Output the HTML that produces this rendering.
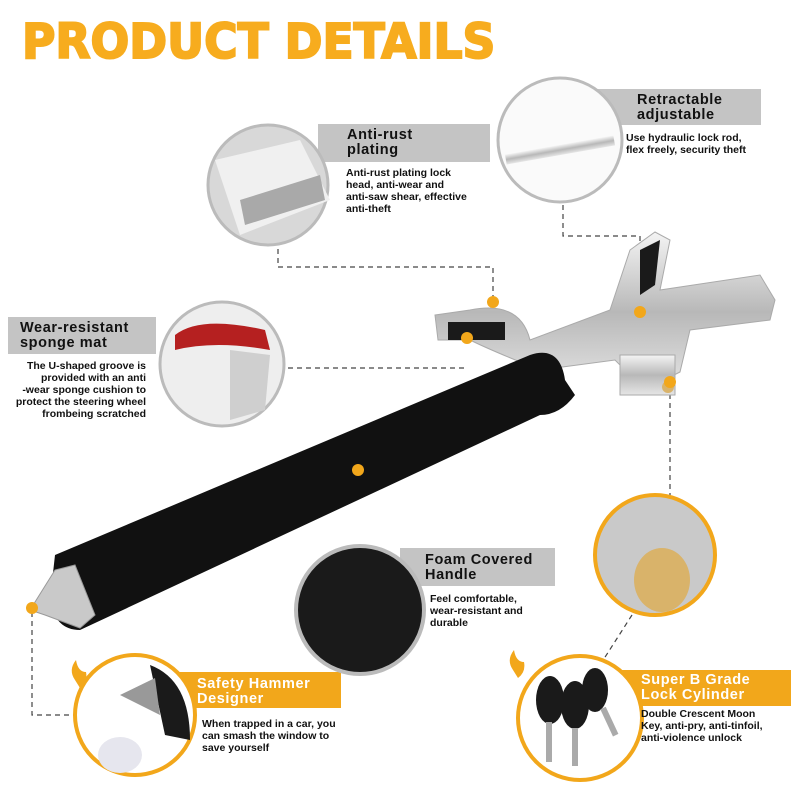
<!DOCTYPE html>
<html><head><meta charset="utf-8"><style>
body{margin:0;width:800px;height:800px;background:#fff;overflow:hidden;position:relative;font-family:"Liberation Sans",sans-serif}
.t{position:absolute;font-weight:bold;font-size:14.5px;line-height:15px;color:#111;letter-spacing:.6px}
.d{position:absolute;font-size:10.5px;line-height:12px;color:#111;font-weight:bold}
</style></head><body>
<svg width="800" height="800" style="position:absolute;left:0;top:0">
<defs>
<linearGradient id="s" x1="0" y1="0" x2="0" y2="1"><stop offset="0" stop-color="#f4f4f4"/><stop offset=".5" stop-color="#b8b8b8"/><stop offset="1" stop-color="#e6e6e6"/></linearGradient>
</defs>
<rect x="318" y="124" width="172" height="38" fill="#c4c4c4"/>
<rect x="575" y="89" width="186" height="36" fill="#c4c4c4"/>
<rect x="8" y="317" width="148" height="37" fill="#c4c4c4"/>
<rect x="400" y="548" width="155" height="38" fill="#c4c4c4"/>
<rect x="175" y="672" width="166" height="36" fill="#f2a71b"/>
<rect x="615" y="670" width="176" height="36" fill="#f2a71b"/>
<g stroke="#444" stroke-width="1.2" stroke-dasharray="5,4" fill="none">
<polyline points="278,240 278,267 493,267 493,300"/>
<polyline points="563,205 563,236 640,236 640,250"/>
<polyline points="270,368 465,368"/>
<polyline points="670,385 670,500"/>
<polyline points="32,612 32,715 75,715"/>
<polyline points="632,615 600,665"/>
</g>
<circle cx="268" cy="185" r="60" fill="#d8d8d8" stroke="#bbb" stroke-width="3"/>
<path d="M215,160 L300,140 L330,200 L240,235Z" fill="#f0f0f0"/>
<path d="M240,200 L320,175 L325,200 L245,225Z" fill="#a9a9a9"/>
<circle cx="560" cy="140" r="62" fill="#fafafa" stroke="#bbb" stroke-width="3"/>
<rect x="505" y="145" width="110" height="10" fill="url(#s)" transform="rotate(-10 560 150)"/>
<circle cx="222" cy="364" r="62" fill="#eee" stroke="#bbb" stroke-width="3"/>
<path d="M175,335 Q200,315 265,330 L270,350 Q215,340 175,350Z" fill="#b52020"/>
<path d="M230,350 L270,355 L265,410 L230,420Z" fill="#cfcfcf"/>
<circle cx="360" cy="610" r="64" fill="#1a1a1a" stroke="#bbb" stroke-width="4"/>
<circle cx="655" cy="555" r="60" fill="#c9c9c9" stroke="#f2a71b" stroke-width="4"/>
<ellipse cx="662" cy="580" rx="28" ry="32" fill="#d9b36a"/>
<circle cx="580" cy="718" r="62" fill="#fff" stroke="#f2a71b" stroke-width="4"/>
<g fill="#1a1a1a"><ellipse cx="550" cy="700" rx="14" ry="24"/><ellipse cx="575" cy="705" rx="14" ry="24"/><ellipse cx="595" cy="690" rx="13" ry="22"/></g>
<g fill="#aaa"><rect x="546" y="722" width="6" height="40"/><rect x="572" y="728" width="6" height="38"/><rect x="600" y="708" width="6" height="30" transform="rotate(-25 603 708)"/></g>
<circle cx="135" cy="715" r="60" fill="#fff" stroke="#f2a71b" stroke-width="4"/>
<path d="M150,665 Q190,680 190,740 L165,735 Z" fill="#1a1a1a"/>
<path d="M120,695 L155,678 L160,715 Z" fill="#999"/>
<ellipse cx="120" cy="755" rx="22" ry="18" fill="#e6e6ee"/>
<g>
<path d="M435,315 L470,310 Q520,300 530,340 L610,310 L630,250 L655,232 L670,240 L660,290 L760,275 L775,300 L770,320 L690,330 L680,372 L640,392 L630,375 L615,360 L540,370 Q490,350 470,340 L438,340Z" fill="url(#s)" stroke="#aaa"/>
<path d="M448,322 L505,322 L505,340 L448,340Z" fill="#1a1a1a"/>
<path d="M640,250 L660,240 L655,285 L640,295Z" fill="#1a1a1a"/>
<rect x="620" y="355" width="55" height="40" fill="url(#s)" stroke="#aaa"/>
<circle cx="668" cy="387" r="6" fill="#d9b36a"/>
<path d="M55,555 L530,355 Q560,345 565,380 L575,395 Q560,415 540,415 L80,630 Q55,630 50,600Z" fill="#111"/>
<path d="M30,610 L55,570 L75,565 L95,615 L80,628 L45,615Z" fill="#c9c9c9" stroke="#999"/>
</g>
<g fill="#f2a71b"><circle cx="493" cy="302" r="6"/><circle cx="467" cy="338" r="6"/><circle cx="640" cy="312" r="6"/><circle cx="670" cy="382" r="6"/><circle cx="358" cy="470" r="6"/><circle cx="32" cy="608" r="6"/>
<path d="M75,680 Q68,670 76,660 Q78,672 86,672 Q88,682 80,688Z"/><path d="M513,670 Q506,660 514,650 Q516,662 524,662 Q526,672 518,678Z"/></g>
</svg>
<div style="position:absolute;left:22px;top:14px;font-size:48px;font-weight:900;color:#f7ac1e;font-family:'DejaVu Sans','Liberation Sans',sans-serif;letter-spacing:0px;-webkit-text-stroke:2px #f7ac1e;transform:scaleX(.95);transform-origin:left">PRODUCT DETAILS</div>
<div class="t" style="left:347px;top:128px">Anti-rust<br>plating</div>
<div class="d" style="left:346px;top:167px">Anti-rust plating lock<br>head, anti-wear and<br>anti-saw shear, effective<br>anti-theft</div>
<div class="t" style="left:637px;top:93px">Retractable<br>adjustable</div>
<div class="d" style="left:626px;top:132px">Use hydraulic lock rod,<br>flex freely, security theft</div>
<div class="t" style="left:20px;top:321px">Wear-resistant<br>sponge mat</div>
<div class="d" style="left:6px;top:360px;text-align:right;width:140px">The U-shaped groove is<br>provided with an anti<br>-wear sponge cushion to<br>protect the steering wheel<br>frombeing scratched</div>
<div class="t" style="left:425px;top:553px">Foam Covered<br>Handle</div>
<div class="d" style="left:430px;top:593px">Feel comfortable,<br>wear-resistant and<br>durable</div>
<div class="t" style="left:197px;top:677px;color:#fff">Safety Hammer<br>Designer</div>
<div class="d" style="left:202px;top:718px">When trapped in a car, you<br>can smash the window to<br>save yourself</div>
<div class="t" style="left:641px;top:673px;color:#fff">Super B Grade<br>Lock Cylinder</div>
<div class="d" style="left:641px;top:708px">Double Crescent Moon<br>Key, anti-pry, anti-tinfoil,<br>anti-violence unlock</div>
</body></html>
